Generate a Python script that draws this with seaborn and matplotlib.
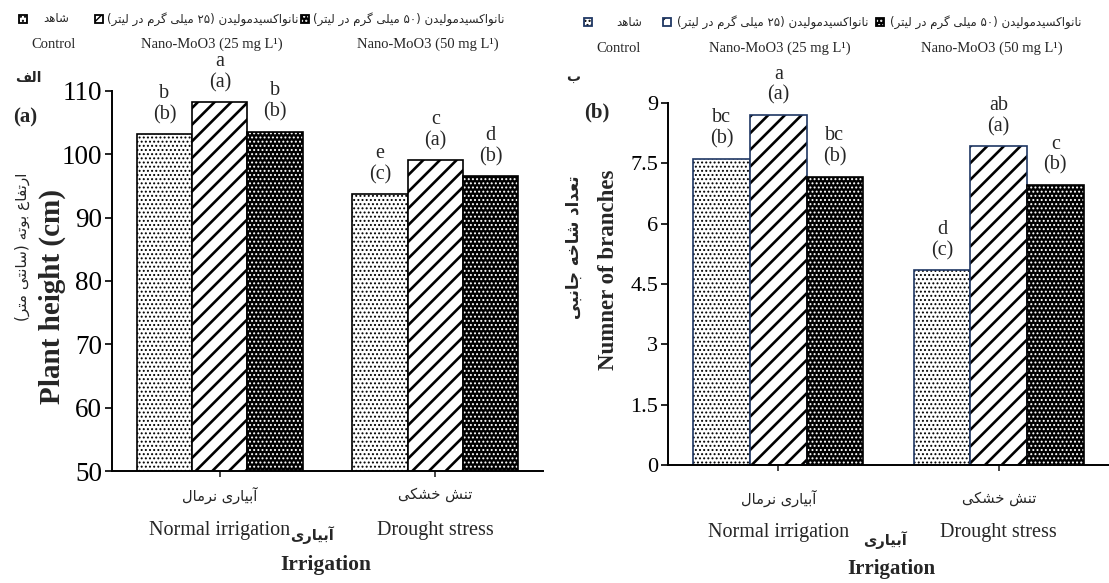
import re
import matplotlib
matplotlib.use("Agg")
import matplotlib.pyplot as plt
import matplotlib.colors as mcolors
from matplotlib.patches import Rectangle
from matplotlib import transforms as mtransforms
import pandas as pd
import seaborn as sns

# ---------------- data ----------------
irrigation_en = ["Normal irrigation", "Drought stress"]
irrigation_fa = ["آبیاری نرمال", "تنش خشکی"]
treatments_en = ["Control", "Nano-MoO3 (25 mg L¹)", "Nano-MoO3 (50 mg L¹)"]
treatments_fa = ["شاهد",
                 "نانواکسیدمولیدن (۲۵ میلی گرم در لیتر)",
                 "نانواکسیدمولیدن (۵۰ میلی گرم در لیتر)"]

height_normal = [103.2, 108.2, 103.6]
height_drought = [93.7, 99.1, 96.6]
branches_normal = [7.62, 8.71, 7.17]
branches_drought = [4.84, 7.92, 6.97]

height_letters_normal = ["b", "a", "b"]
height_letters_drought = ["e", "c", "d"]
height_groups_normal = ["(b)", "(a)", "(b)"]
height_groups_drought = ["(c)", "(a)", "(b)"]
branch_letters_normal = ["bc", "a", "bc"]
branch_letters_drought = ["d", "ab", "c"]
branch_groups_normal = ["(b)", "(a)", "(b)"]
branch_groups_drought = ["(c)", "(a)", "(b)"]

height_ticks = [50, 60, 70, 80, 90, 100, 110]
height_tick_labels = ["50", "60", "70", "80", "90", "100", "110"]
branch_ticks = [0, 1.5, 3, 4.5, 6, 7.5, 9]
branch_tick_labels = ["0", "1.5", "3", "4.5", "6", "7.5", "9"]

# ------------- Persian shaping (presentation forms, RTL order) -------------
_FORMS = {
    "ا": ("\uFE8D", "\uFE8E", None, None),
    "آ": ("\uFE81", "\uFE82", None, None),
    "ب": ("\uFE8F", "\uFE90", "\uFE91", "\uFE92"),
    "ت": ("\uFE95", "\uFE96", "\uFE97", "\uFE98"),
    "ج": ("\uFE9D", "\uFE9E", "\uFE9F", "\uFEA0"),
    "خ": ("\uFEA5", "\uFEA6", "\uFEA7", "\uFEA8"),
    "د": ("\uFEA9", "\uFEAA", None, None),
    "ر": ("\uFEAD", "\uFEAE", None, None),
    "س": ("\uFEB1", "\uFEB2", "\uFEB3", "\uFEB4"),
    "ش": ("\uFEB5", "\uFEB6", "\uFEB7", "\uFEB8"),
    "ع": ("\uFEC9", "\uFECA", "\uFECB", "\uFECC"),
    "ف": ("\uFED1", "\uFED2", "\uFED3", "\uFED4"),
    "ل": ("\uFEDD", "\uFEDE", "\uFEDF", "\uFEE0"),
    "م": ("\uFEE1", "\uFEE2", "\uFEE3", "\uFEE4"),
    "ن": ("\uFEE5", "\uFEE6", "\uFEE7", "\uFEE8"),
    "ه": ("\uFEE9", "\uFEEA", "\uFEEB", "\uFEEC"),
    "و": ("\uFEED", "\uFEEE", None, None),
    "ک": ("\uFB8E", "\uFB8F", "\uFB90", "\uFB91"),
    "گ": ("\uFB92", "\uFB93", "\uFB94", "\uFB95"),
    "ی": ("\uFBFC", "\uFBFD", "\uFBFE", "\uFBFF"),
}


def _shape(s):
    out = []
    n = len(s)
    for i, c in enumerate(s):
        f = _FORMS.get(c)
        if f is None:
            out.append(c)
            continue
        prev = s[i - 1] if i > 0 else ""
        nxt = s[i + 1] if i + 1 < n else ""
        jp = prev in _FORMS and _FORMS[prev][2] is not None
        jn = f[2] is not None and nxt in _FORMS
        if jp and jn:
            out.append(f[3])
        elif jp:
            out.append(f[1])
        elif jn:
            out.append(f[2])
        else:
            out.append(f[0])
    return "".join(out)


_MIRROR = {"(": ")", ")": "("}


def fa(s):
    shaped = _shape(s)
    toks = re.findall(r"[0-9\u06F0-\u06F9]+|.", shaped, flags=re.S)
    return "".join(_MIRROR.get(t, t) for t in reversed(toks))


# ---------------- style ----------------
sns.set_style("ticks")
plt.rcParams["font.family"] = ["Liberation Serif", "DejaVu Sans"]
plt.rcParams["hatch.linewidth"] = 1.0
FA_FONT = "DejaVu Sans"

FILL = ["white", "white", "black"]
HATCH = ["....", "//", "...."]
HATCH_COLOR = ["black", "black", "white"]
HATCH_LW = [0.9, 1.9, 0.9]
NAVY = "#1f3763"

W, H = 1109, 583
fig = plt.figure(figsize=(W / 100, H / 100), dpi=100)


def ft(x, y, s, **kw):
    return fig.text(x / W, 1 - y / H, s, **kw)


def style_patch(p, face, edge, hatch, hcolor, hlw, lw=1.2):
    p.set_facecolor(face)
    p.set_edgecolor(edge)
    p.set_linewidth(lw)
    p.set_hatch(hatch)
    if hasattr(p, "set_hatchcolor"):
        p.set_hatchcolor(hcolor)
    else:
        p._hatch_color = mcolors.to_rgba(hcolor)
    if hasattr(p, "set_hatch_linewidth"):
        p.set_hatch_linewidth(hlw)


def make_df(normal, drought):
    rows = []
    for irr, vals in zip(irrigation_en, [normal, drought]):
        for t, v in zip(treatments_en, vals):
            rows.append({"irrigation": irr, "treatment": t, "value": v})
    return pd.DataFrame(rows)


def draw_panel(ax, df, ylim, ticks, ticklabels, edges, letters, groups,
               tick_size, ann_size):
    sns.barplot(data=df, x="irrigation", y="value", hue="treatment",
                order=irrigation_en, hue_order=treatments_en,
                palette=dict(zip(treatments_en, FILL)), width=0.77,
                errorbar=None, legend=False, saturation=1, ax=ax)
    for h, cont in enumerate(ax.containers):
        for c, p in enumerate(cont):
            style_patch(p, FILL[h], edges[h], HATCH[h], HATCH_COLOR[h], HATCH_LW[h])
            x = p.get_x() + p.get_width() / 2
            ax.annotate(f"{letters[c][h]}\n{groups[c][h]}", xy=(x, p.get_height()),
                        xytext=(0, 7), textcoords="offset points",
                        ha="center", va="bottom", fontsize=ann_size,
                        linespacing=1.15, annotation_clip=False)
    ax.set_ylim(*ylim)
    ax.set_xlim(-0.5, 1.5)
    ax.set_yticks(ticks)
    ax.set_yticklabels(ticklabels)
    ax.set_xlabel("")
    ax.set_ylabel("")
    for s in ["top", "right"]:
        ax.spines[s].set_visible(False)
    for s in ["left", "bottom"]:
        ax.spines[s].set_linewidth(1.4)
        ax.spines[s].set_color("black")
    ax.tick_params(axis="y", direction="out", length=5, width=1.2, pad=2,
                   labelsize=tick_size, colors="black")
    ax.tick_params(axis="x", direction="out", length=4, width=1.2,
                   labelbottom=False)


# ---------------- panel (a) ----------------
axA = fig.add_axes([112 / W, 1 - 471 / H, 431 / W, 380 / H])
draw_panel(axA, make_df(height_normal, height_drought), (50, 110),
           height_ticks, height_tick_labels, ["black", "black", "black"],
           [height_letters_normal, height_letters_drought],
           [height_groups_normal, height_groups_drought], 19.5, 14.5)

# ---------------- panel (b) ----------------
axB = fig.add_axes([668 / W, 1 - 465 / H, 441 / W, 362 / H])
draw_panel(axB, make_df(branches_normal, branches_drought), (0, 9),
           branch_ticks, branch_tick_labels, [NAVY, NAVY, "black"],
           [branch_letters_normal, branch_letters_drought],
           [branch_groups_normal, branch_groups_drought], 16, 14.5)

# ---------------- category labels ----------------
for ax, y_fa, y_en in [(axA, 495, 531), (axB, 498, 533)]:
    tr = mtransforms.blended_transform_factory(ax.transData, fig.transFigure)
    for i in range(len(irrigation_en)):
        ax.text(i, 1 - y_fa / H, fa(irrigation_fa[i]), transform=tr, ha="center",
                va="center", fontsize=10.5, family=FA_FONT)
        ax.text(i, 1 - y_en / H, irrigation_en[i], transform=tr, ha="center",
                va="center", fontsize=14.5)

# x-axis titles
ft(312, 535, fa("آبیاری"), ha="center", va="center", fontsize=10.5,
   family=FA_FONT, fontweight="bold")
ft(326, 565, "Irrigation", ha="center", va="center", fontsize=15.5, fontweight="bold")
ft(885, 540, fa("آبیاری"), ha="center", va="center", fontsize=10.5,
   family=FA_FONT, fontweight="bold")
ft(891, 569, "Irrigation", ha="center", va="center", fontsize=15, fontweight="bold")

# y-axis titles
ft(22, 247, fa("ارتفاع بوته (سانتی متر)"), rotation=90, ha="center", va="center",
   fontsize=11, family=FA_FONT)
ft(52, 297, "Plant height (cm)", rotation=90, ha="center", va="center",
   fontsize=21, fontweight="bold")
ft(574, 247, fa("تعداد شاخه جانبی"), rotation=90, ha="center", va="center",
   fontsize=12, family=FA_FONT, fontweight="bold")
ft(609, 270, "Numner of branches", rotation=90, ha="center", va="center",
   fontsize=16.5, fontweight="bold")

# panel tags
ft(28, 78, fa("الف"), ha="center", va="center", fontsize=10, family=FA_FONT,
   fontweight="bold")
ft(25, 117, "(a)", ha="center", va="center", fontsize=15, fontweight="bold")
ft(573, 77, fa("ب"), ha="center", va="center", fontsize=10, family=FA_FONT,
   fontweight="bold")
ft(597, 112, "(b)", ha="center", va="center", fontsize=15, fontweight="bold")

# ---------------- legends ----------------
def legend_row(marker_x, marker_y, fa_pos, en_x, en_y, edges):
    for i in range(len(treatments_en)):
        r = Rectangle(((marker_x[i] - 4) / W, 1 - (marker_y + 4) / H), 8 / W, 8 / H,
                      transform=fig.transFigure, facecolor=FILL[i],
                      edgecolor=edges[i], linewidth=1.3, hatch=HATCH[i])
        if hasattr(r, "set_hatchcolor"):
            r.set_hatchcolor(HATCH_COLOR[i])
        else:
            r._hatch_color = mcolors.to_rgba(HATCH_COLOR[i])
        fig.add_artist(r)
        xx, ha = fa_pos[i]
        ft(xx, marker_y, fa(treatments_fa[i]), ha=ha, va="center", fontsize=8.5,
           family=FA_FONT)
        ft(en_x[i], en_y, treatments_en[i], ha="center", va="center", fontsize=10.5)


legend_row([23, 99, 305], 19, [(56, "center"), (107, "left"), (313, "left")],
           [54, 212, 428], 44, ["black", "black", "black"])
legend_row([588, 667, 880], 22, [(629, "center"), (677, "left"), (890, "left")],
           [619, 780, 992], 48, [NAVY, NAVY, "black"])

fig.savefig("out.png", dpi=100)
